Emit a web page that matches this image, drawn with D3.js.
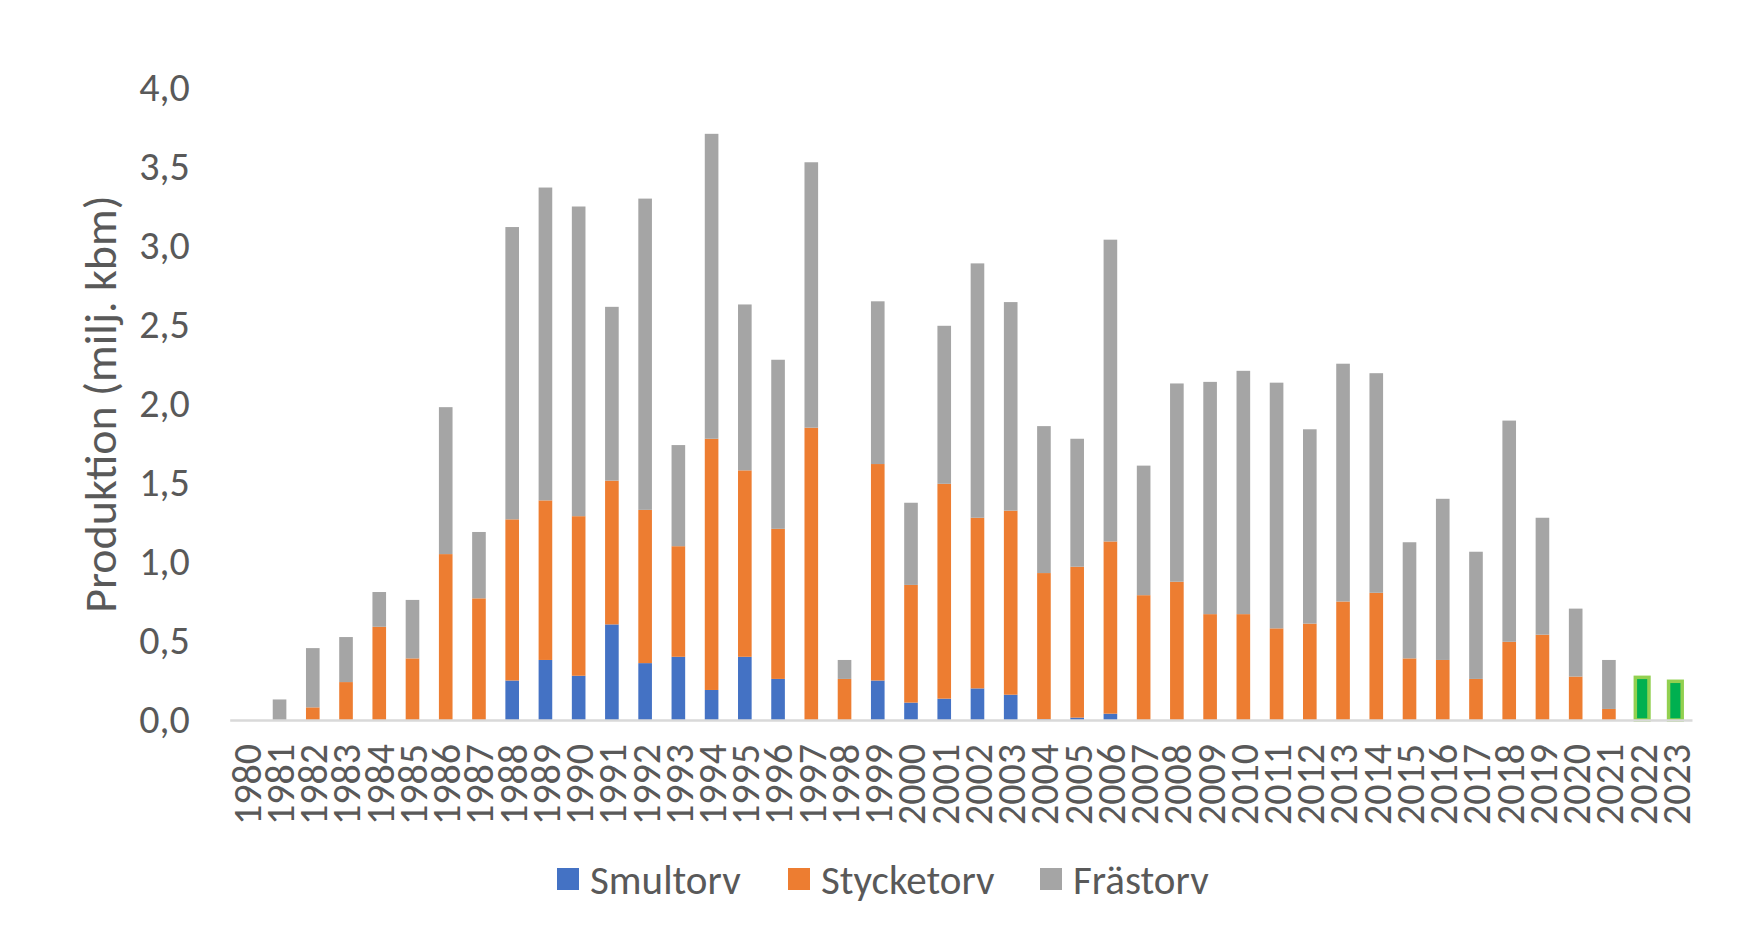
<!DOCTYPE html>
<html>
<head>
<meta charset="utf-8">
<script src="https://cdn.jsdelivr.net/npm/d3@7"></script>
<style>
    body { margin: 0; background: #fff; }
    svg { display: block; font-family: Carlito, Calibri, Lato, sans-serif; }
</style>
</head>
<body>
<div class="graph-container"></div>
<script>
// data (miljoner kbm)
const years = d3.range(1980, 2024).map(String);
const smultorv = [0, 0, 0, 0, 0, 0, 0, 0, 0.25, 0.38, 0.28, 0.605, 0.36, 0.40, 0.19, 0.40, 0.26, 0, 0, 0.25,
    0.11, 0.135, 0.20, 0.16, 0.005, 0.015, 0.04, 0, 0, 0, 0, 0, 0, 0, 0, 0, 0, 0, 0, 0, 0, 0, 0, 0];
const stycketorv = [0, 0, 0.08, 0.24, 0.59, 0.39, 1.05, 0.77, 1.02, 1.01, 1.01, 0.91, 0.97, 0.70, 1.59, 1.18, 0.95, 1.85, 0.26, 1.37,
    0.745, 1.36, 1.08, 1.165, 0.925, 0.955, 1.09, 0.79, 0.875, 0.67, 0.67, 0.58, 0.61, 0.75, 0.805, 0.39, 0.38, 0.26, 0.495, 0.54,
    0.275, 0.07, 0.27, 0.245];
const frastorv = [0, 0.13, 0.375, 0.285, 0.22, 0.37, 0.93, 0.42, 1.85, 1.98, 1.96, 1.10, 1.97, 0.64, 1.93, 1.05, 1.07, 1.68, 0.12, 1.03,
    0.52, 1.00, 1.61, 1.32, 0.93, 0.81, 1.91, 0.82, 1.255, 1.47, 1.54, 1.555, 1.23, 1.505, 1.39, 0.735, 1.02, 0.805, 1.40, 0.74,
    0.43, 0.31, 0, 0];
const seriesNames = ['Smultorv', 'Stycketorv', 'Frästorv'];
const yTicks = [0, 0.5, 1, 1.5, 2, 2.5, 3, 3.5, 4];
const highlightYears = ['2022', '2023']; // green points in the Stycketorv series

// graph constants
const w = 1746;
const h = 947;
const colors = ['#4472C4', '#ED7D31', '#A5A5A5'];
const textColor = '#595959';

const table = years.map((y, i) => ({
    year: y,
    Smultorv: smultorv[i],
    Stycketorv: stycketorv[i],
    Frästorv: frastorv[i]
}));
const stacked = d3.stack().keys(seriesNames)(table);

const svgChart = d3.select('.graph-container')
    .append('svg')
    .attr('width', w)
    .attr('height', h);

// scales
const xScale = d3.scaleBand()
    .domain(years)
    .range([229.7, 1692])
    .paddingInner(0.59)
    .paddingOuter(0.295);
const yScale = d3.scaleLinear()
    .domain([0, 4])
    .range([720, 88]);

const locale = d3.formatLocale({ decimal: ',', thousands: ' ', grouping: [3], currency: ['', ' kr'] });
const fmt = locale.format('.1f');

// bars
svgChart.append('g')
    .selectAll('g')
    .data(stacked)
    .join('g')
    .attr('fill', (d, i) => colors[i])
    .selectAll('rect')
    .data(d => d.map(p => ({ p, key: d.key })))
    .join('rect')
    .attr('x', d => xScale(d.p.data.year))
    .attr('y', d => yScale(d.p[1]))
    .attr('width', xScale.bandwidth())
    .attr('height', d => yScale(d.p[0]) - yScale(d.p[1]))
    .each(function (d) {
        if (d.key === 'Stycketorv' && highlightYears.includes(d.p.data.year)) {
            d3.select(this)
                .attr('fill', '#00B050')
                .attr('stroke', '#92D050')
                .attr('stroke-width', 3.5);
        }
    });

// x axis
const xAxis = svgChart.append('g')
    .attr('transform', `translate(0, ${yScale(0)})`)
    .call(d3.axisBottom(xScale).tickSize(0).tickPadding(0))
    .attr('font-family', null)
    .attr('font-size', null);
xAxis.select('.domain')
    .attr('stroke', '#D9D9D9')
    .attr('stroke-width', 2.5);
xAxis.selectAll('text')
    .attr('font-size', 40)
    .attr('fill', textColor)
    .attr('transform', 'rotate(-90)')
    .attr('text-anchor', 'end')
    .attr('x', -24)
    .attr('y', 0)
    .attr('dy', '0.36em');

// y axis
const yAxis = svgChart.append('g')
    .attr('transform', `translate(229.7, 0)`)
    .call(d3.axisLeft(yScale).tickValues(yTicks).tickFormat(fmt).tickSize(0).tickPadding(40))
    .attr('font-family', null)
    .attr('font-size', null);
yAxis.select('.domain').remove();
yAxis.selectAll('text')
    .attr('font-size', 40)
    .attr('fill', textColor);

// y title
svgChart.append('text')
    .text('Produktion (milj. kbm)')
    .attr('font-size', 46)
    .attr('fill', textColor)
    .attr('text-anchor', 'middle')
    .attr('transform', `translate(100, ${(yScale(0) + yScale(4)) / 2}) rotate(-90)`)
    .attr('dy', '0.35em');

// legend
const legendX = [557, 788, 1040];
const legend = svgChart.append('g')
    .selectAll('g')
    .data(seriesNames)
    .join('g')
    .attr('transform', (d, i) => `translate(${legendX[i]}, 879)`);
legend.append('rect')
    .attr('x', 0)
    .attr('y', -11)
    .attr('width', 22)
    .attr('height', 22)
    .attr('fill', (d, i) => colors[i]);
legend.append('text')
    .text(d => d)
    .attr('x', 33)
    .attr('dy', '0.36em')
    .attr('font-size', 41)
    .attr('fill', textColor);
</script>
</body>
</html>
